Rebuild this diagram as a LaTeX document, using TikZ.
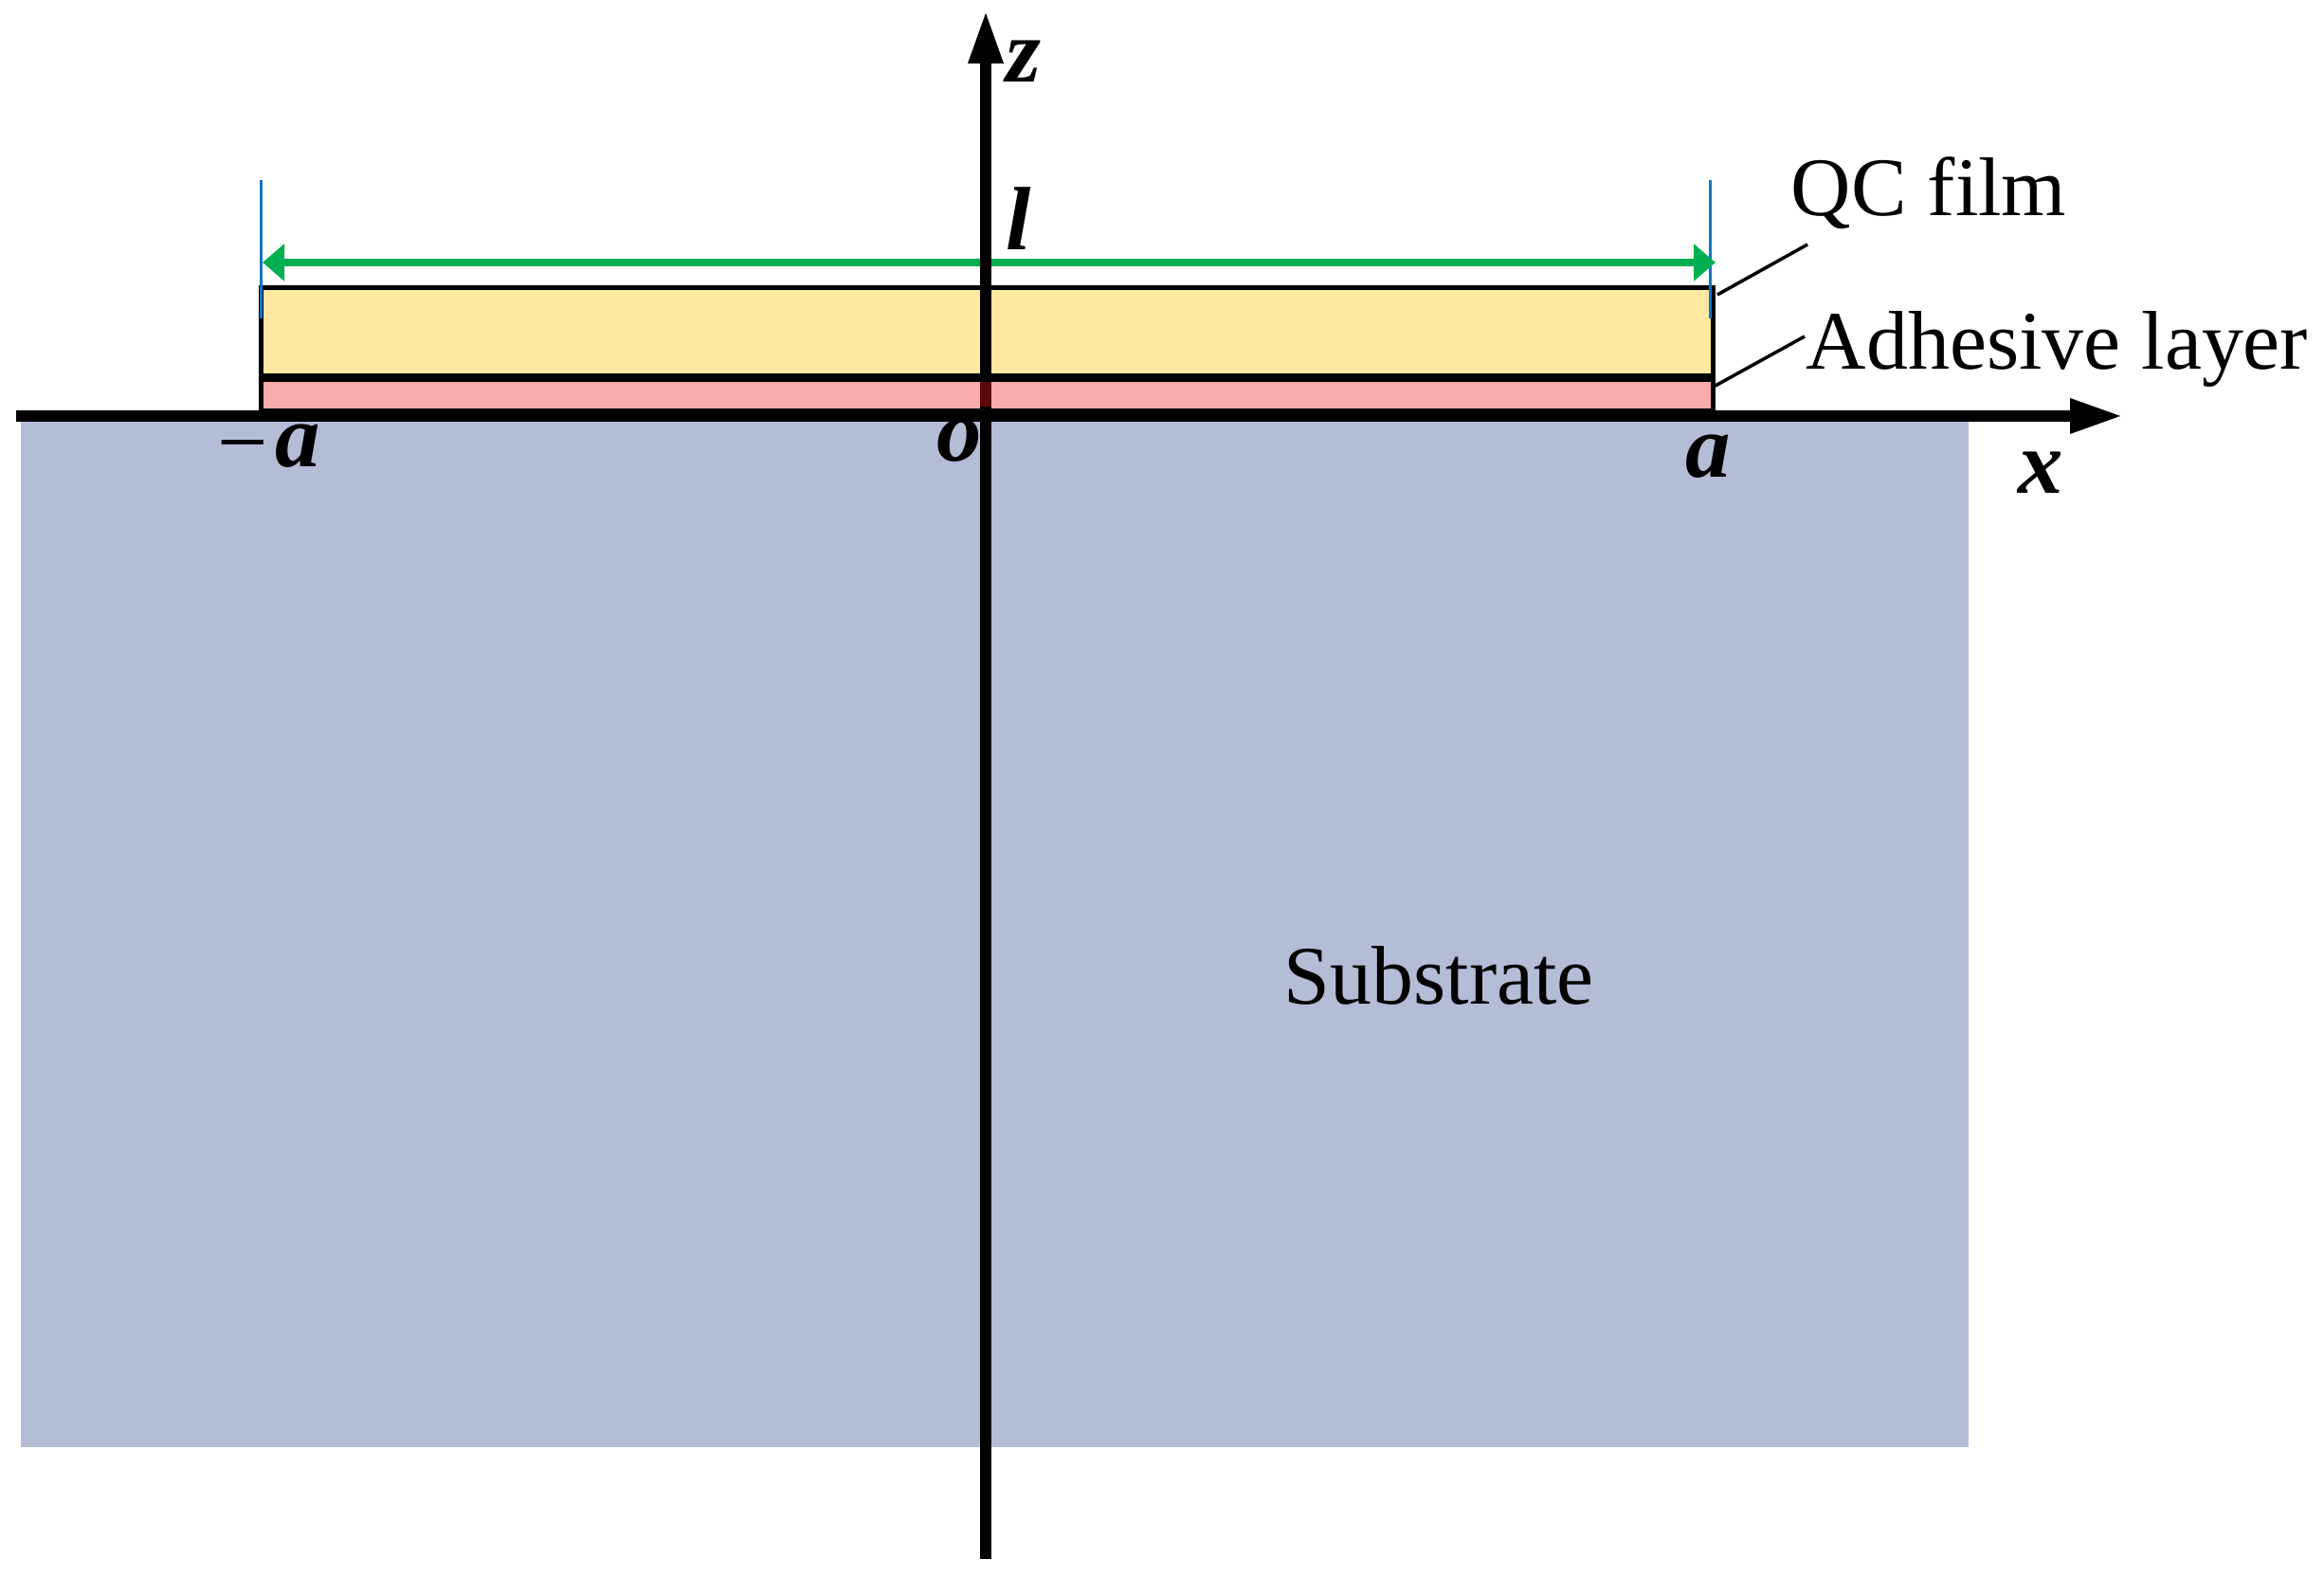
\documentclass[tikz,border=0pt]{standalone}
\usepackage{fontspec}
\setmainfont{Liberation Serif}
\usepackage{color}
\usetikzlibrary{arrows.meta}
\definecolor{filmyellow}{RGB}{255,232,160}
\definecolor{gluered}{RGB}{250,172,172}
\definecolor{glueaxis}{RGB}{90,10,10}
\definecolor{subblue}{RGB}{180,188,214}
\definecolor{dimgreen}{RGB}{0,176,80}
\definecolor{tickblue}{RGB}{21,115,200}

\begin{document}
\begin{tikzpicture}
\tikzset{axis/.style = {-{Triangle[length=5.6mm, width=3.4mm]}, line width=.12cm}}
\tikzset{dimline/.style = {{Triangle[length=2.3mm, width=3.8mm]}-{Triangle[length=2.3mm, width=3.8mm]}, draw=dimgreen, line width=.08cm}}
\tikzset{tick/.style = {draw=tickblue, line width=.03cm}}
\tikzset{leader/.style = {draw=black, line width=.035cm}}
\tikzset{layer/.style = {draw=black, line width=.05cm}}
\tikzset{textlabel/.style = {anchor=base west, inner sep=0pt, font=\fontsize{25}{30}\selectfont}}
\tikzset{symlabel/.style = {anchor=base, inner sep=0pt, font=\fontsize{27}{32}\selectfont\bfseries\itshape}}

\useasboundingbox (0,0) rectangle (24.52,16.64);

% substrate and layers
\fill[subblue] (.22,1.37) rectangle (20.77,12.25);
\path[layer, fill=gluered] (2.75,12.3) rectangle (18.07,12.63);
\path[layer, fill=filmyellow] (2.75,12.67) rectangle (18.07,13.605);

% end ticks and width
\coordinate (ticktopleft) at (2.755,14.74);
\coordinate (tickbotleft) at (2.755,13.28);
\coordinate (ticktopright) at (18.045,14.74);
\coordinate (tickbotright) at (18.045,13.28);
\draw[tick] (ticktopleft) -- (tickbotleft);
\draw[tick] (ticktopright) -- (tickbotright);
\coordinate (widthleft) at (2.77,13.87);
\coordinate (widthright) at (18.1,13.87);
\draw[dimline] (widthleft) -- (widthright);

% axes
\coordinate (xstart) at (.17,12.25);
\coordinate (xend) at (22.4,12.25);
\coordinate (zstart) at (10.4,.19);
\coordinate (zend) at (10.4,16.53);
\draw[axis] (xstart) -- (xend);
\draw[axis] (zstart) -- (zend);
\fill[glueaxis] (10.34,12.35) rectangle (10.46,12.61);

% labels
\node[textlabel] (qcfilm) at (18.89,14.36) {QC film};
\node[textlabel] (adhesive) at (19.05,12.74) {Adhesive layer};
\node[textlabel] (substrate) at (13.54,6.04) {Substrate};
\node[symlabel] (minusa) at (2.835,11.71) {{\normalfont\fontsize{27}{32}\selectfont\raisebox{-.06cm}{−}}\kern.08cm a};
\node[symlabel] (plusa) at (18.02,11.6) {a};
\node[symlabel] (xlabel) at (21.53,11.43) {x};
\node[symlabel] (zlabel) at (10.8,15.77) {z};
\node[symlabel] (llabel) at (10.75,14) {l};
\node[symlabel] (olabel) at (10.125,11.77) {o};

% leaders
\coordinate (qcfoot) at (18.12,13.53);
\coordinate (qchead) at (19.07,14.06);
\coordinate (gluefoot) at (18.08,12.56);
\coordinate (gluehead) at (19.04,13.09);
\draw[leader] (qcfoot) -- (qchead);
\draw[leader] (gluefoot) -- (gluehead);
\end{tikzpicture}
\end{document}
